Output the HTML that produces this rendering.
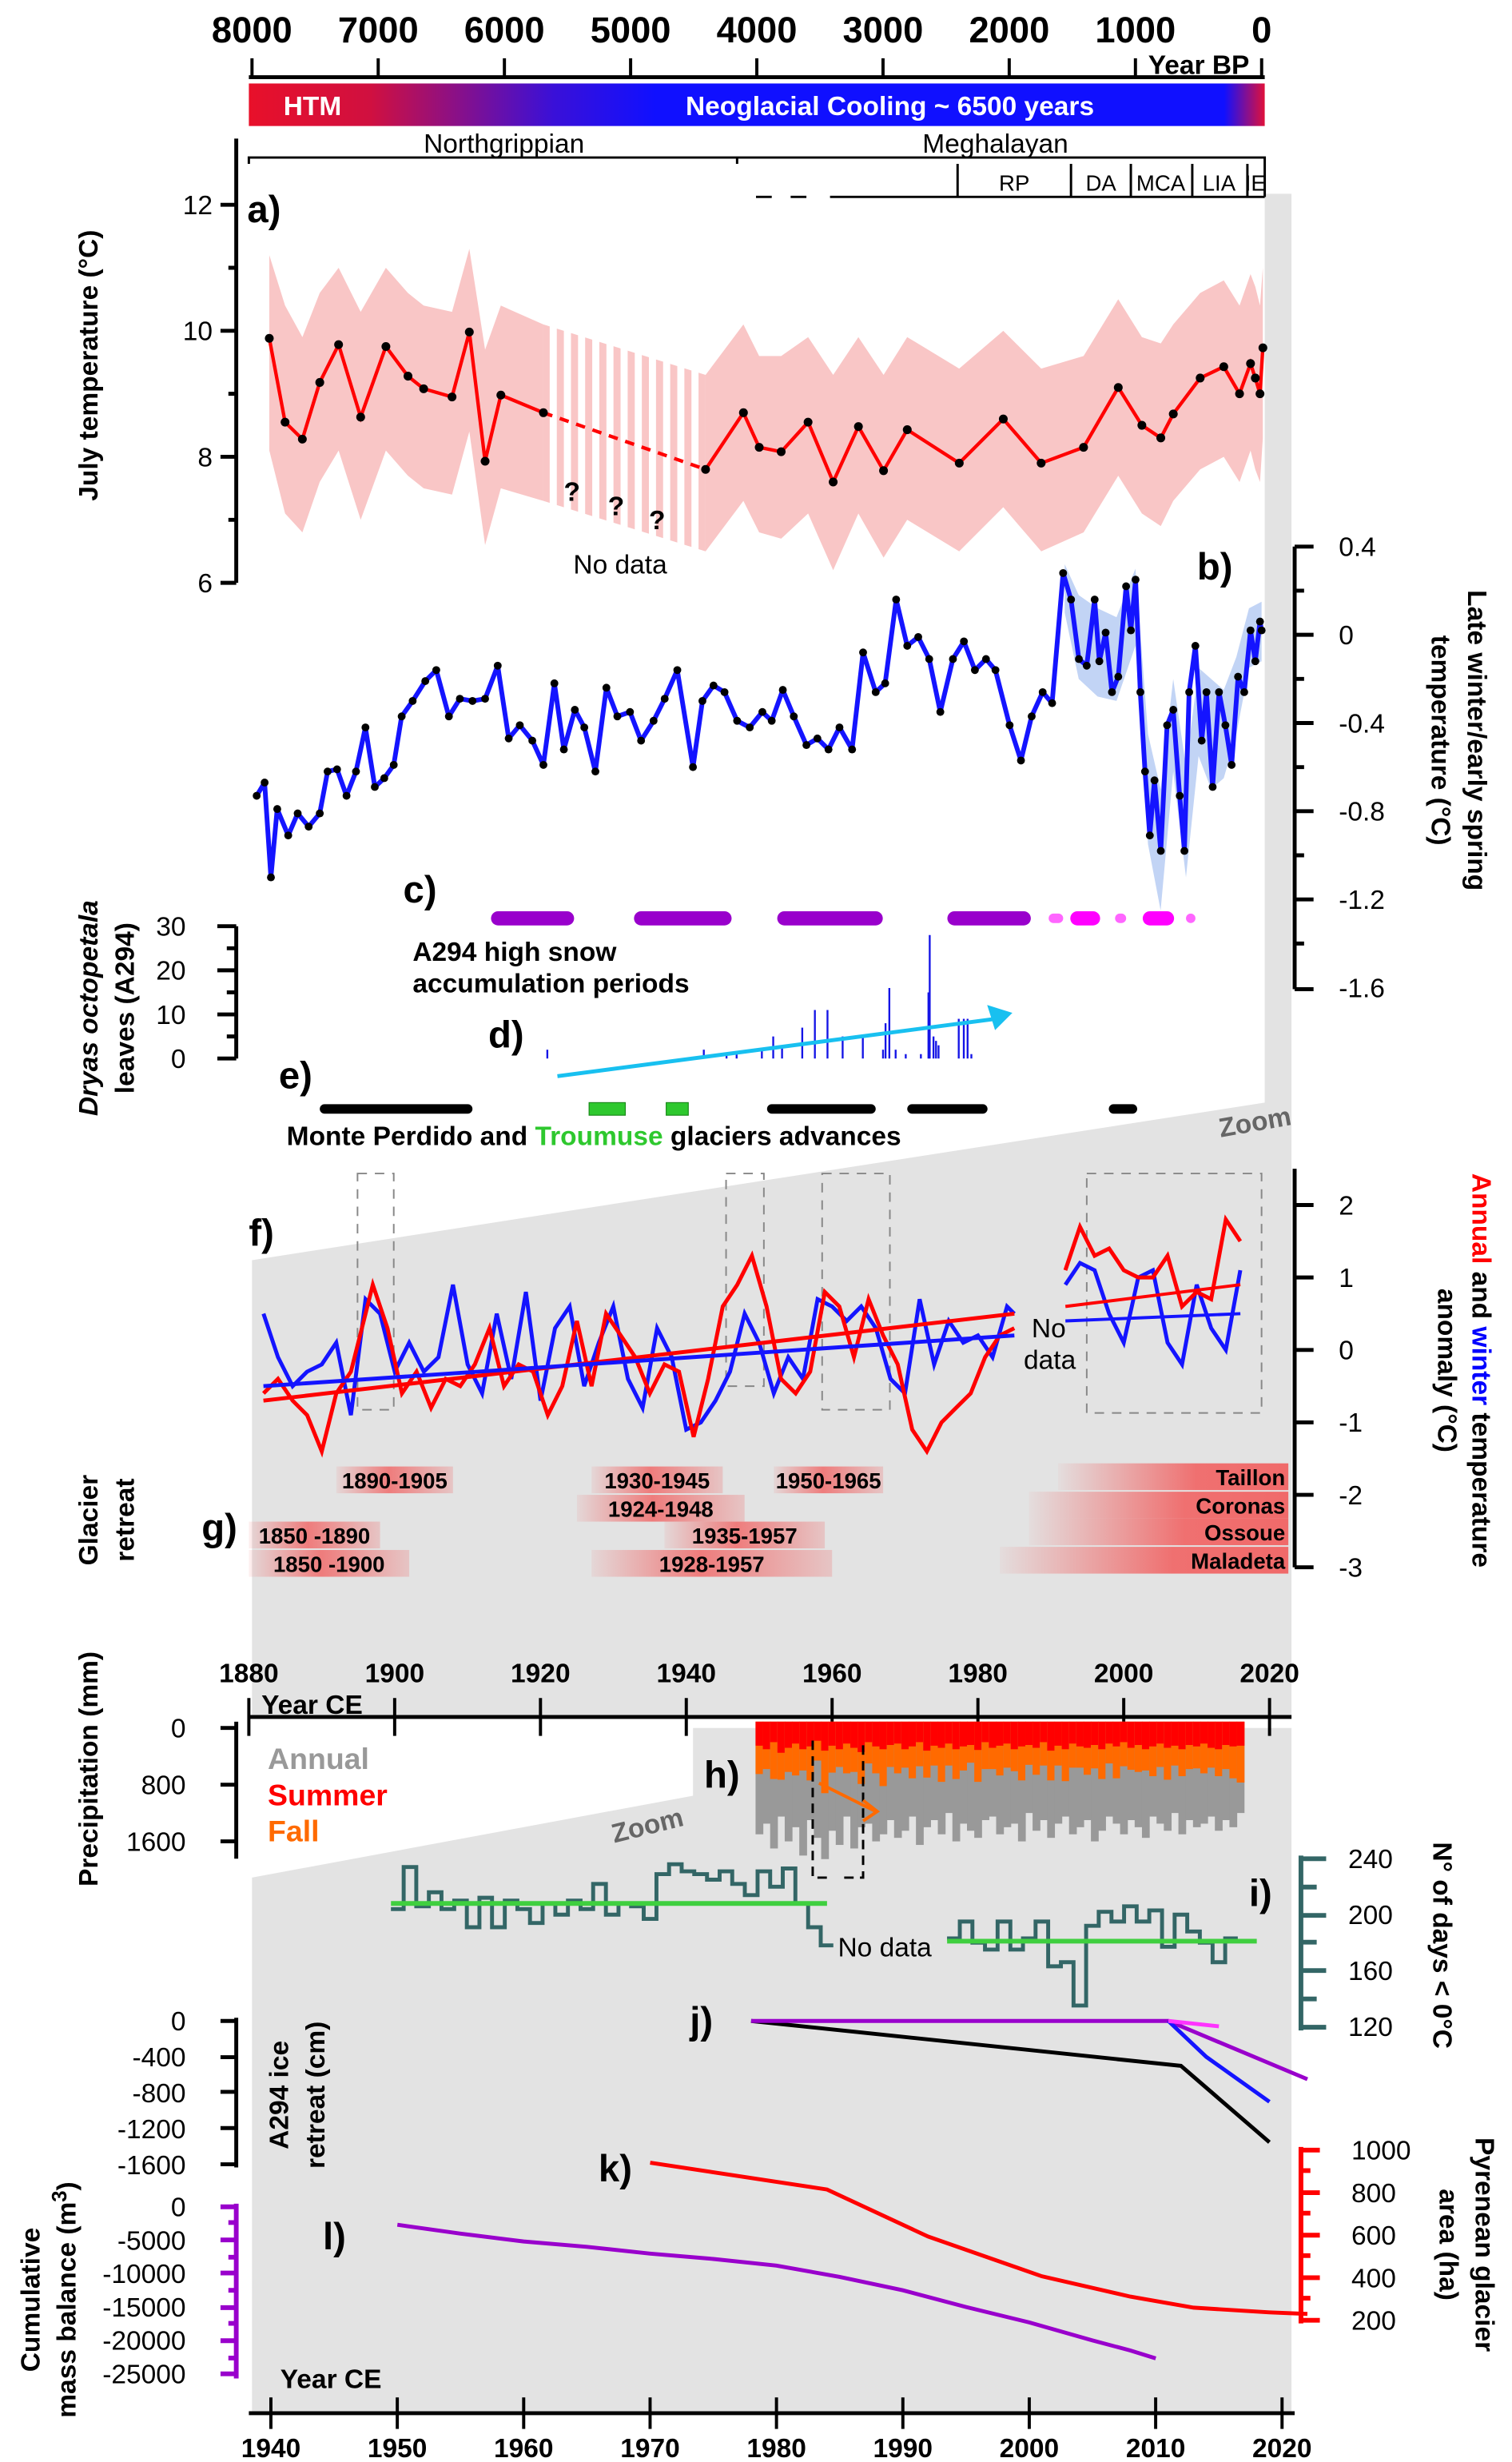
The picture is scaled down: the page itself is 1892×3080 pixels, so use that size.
<!DOCTYPE html>
<html><head><meta charset="utf-8"><title>Pyrenees climate and glacier composite figure</title>
<style>
html,body{margin:0;padding:0;background:#fff;}
svg{display:block;font-family:"Liberation Sans Narrow","Liberation Sans",Arial,sans-serif;}
.t{font-size:17px;fill:#000}
.b{font-weight:bold}
.lab{font-size:24px;font-weight:bold}
</style></head>
<body>
<svg id="fig" width="1892" height="3080" viewBox="0 0 960 1563" preserveAspectRatio="none" xmlns="http://www.w3.org/2000/svg">
<defs>
<linearGradient id="htm" x1="0" x2="1" y1="0" y2="0">
<stop offset="0" stop-color="#e8102a"/><stop offset="0.12" stop-color="#d01040"/><stop offset="0.3" stop-color="#3a10d8"/><stop offset="0.4" stop-color="#1010ff"/><stop offset="0.96" stop-color="#1010ff"/><stop offset="1" stop-color="#e0103a"/>
</linearGradient>
<linearGradient id="gr" x1="0" x2="1" y1="0" y2="0">
<stop offset="0" stop-color="#f06a6a" stop-opacity="0.1"/><stop offset="0.45" stop-color="#f06a6a" stop-opacity="0.85"/><stop offset="1" stop-color="#f06a6a" stop-opacity="0.25"/>
</linearGradient>
<linearGradient id="gr2" x1="0" x2="1" y1="0" y2="0">
<stop offset="0" stop-color="#f06a6a" stop-opacity="0.05"/><stop offset="0.6" stop-color="#f06a6a" stop-opacity="0.95"/><stop offset="1" stop-color="#f06a6a" stop-opacity="1"/>
</linearGradient>
</defs>

<polygon points="160,800 803,700 803,123 820,123 820,1090 160,1090" fill="#e3e3e3"/>
<polygon points="160,1192 440,1140 440,1097 820,1097 820,1532 160,1532" fill="#e3e3e3"/>
<text x="775" y="722" transform="rotate(-10 775 722)" font-size="17" fill="#666" font-weight="bold">Zoom</text>
<text x="390" y="1170" transform="rotate(-14 390 1170)" font-size="17" fill="#666" font-weight="bold">Zoom</text>

<g id="topaxis"></g>
<text x="729" y="47" class="t b" font-size="17">Year BP</text>
<rect x="158" y="53" width="645" height="27" fill="url(#htm)"/>
<text x="180" y="73" fill="#fff" font-size="17" font-weight="bold">HTM</text>
<text x="565" y="73" fill="#fff" font-size="17" font-weight="bold" text-anchor="middle">Neoglacial Cooling  ~ 6500 years</text>
<g stroke="#000" stroke-width="1.5" fill="none">
<path d="M158,104 V100 H803 V104 M468,100 V104"/>
<path d="M480,125 H490 M502,125 H512 M527,125 H803 M608,104 V125 M680,104 V125 M718,104 V125 M757,104 V125 M792,104 V125 M803,104 V125"/>
</g>
<text x="320" y="97" class="t" text-anchor="middle">Northgrippian</text>
<text x="632" y="97" class="t" text-anchor="middle">Meghalayan</text>
<text x="644" y="121" font-size="14" text-anchor="middle">RP</text>
<text x="699" y="121" font-size="14" text-anchor="middle">DA</text>
<text x="737" y="121" font-size="14" text-anchor="middle">MCA</text>
<text x="774" y="121" font-size="14" text-anchor="middle">LIA</text>
<text x="797" y="121" font-size="14" text-anchor="middle">IE</text>

<g id="pa"></g>
<text transform="translate(62,232) rotate(-90)" class="t b" font-size="19" text-anchor="middle">July temperature (°C)</text>
<text x="364" y="364" class="t">No data</text>
<text x="358" y="318" class="t b">?</text>
<text x="386" y="327" class="t b">?</text>
<text x="412" y="336" class="t b">?</text>

<g id="pb"></g>
<text transform="translate(932,470) rotate(90)" class="t b" font-size="19" text-anchor="middle">Late winter/early spring</text>
<text transform="translate(909,470) rotate(90)" class="t b" font-size="19" text-anchor="middle">temperature (°C)</text>

<g id="pc"></g>
<text x="262" y="610" class="t b">A294 high snow</text>
<text x="262" y="630" class="t b">accumulation periods</text>

<g id="pd"></g>
<text transform="translate(62,640) rotate(-90)" class="t b" font-size="19" text-anchor="middle"><tspan font-style="italic">Dryas octopetala</tspan></text>
<text transform="translate(85,640) rotate(-90)" class="t b" font-size="19" text-anchor="middle">leaves (A294)</text>

<g id="pe"></g>
<text x="182" y="727" class="t b">Monte Perdido and <tspan fill="#2ec82e">Troumuse</tspan> glaciers advances</text>

<g id="pf"></g>
<text x="655" y="849" class="t">No</text>
<text x="650" y="869" class="t">data</text>
<text transform="translate(935,870) rotate(90)" class="t b" font-size="19" text-anchor="middle"><tspan fill="#f00">Annual</tspan> and <tspan fill="#00f">winter</tspan> temperature</text>
<text transform="translate(913,870) rotate(90)" class="t b" font-size="19" text-anchor="middle">anomaly (°C)</text>

<g id="pg"></g>
<text transform="translate(62,965) rotate(-90)" class="t b" font-size="19" text-anchor="middle">Glacier</text>
<text transform="translate(85,965) rotate(-90)" class="t b" font-size="19" text-anchor="middle">retreat</text>

<g id="midaxis"></g>
<text x="166" y="1088" class="t b">Year CE</text>

<g id="ph"></g>
<text transform="translate(62,1123) rotate(-90)" class="t b" font-size="19" text-anchor="middle">Precipitation (mm)</text>
<text x="170" y="1123" font-size="19" font-weight="bold" fill="#999">Annual</text>
<text x="170" y="1146" font-size="19" font-weight="bold" fill="#f00">Summer</text>
<text x="170" y="1169" font-size="19" font-weight="bold" fill="#ff6a00">Fall</text>

<g id="pi"></g>
<text x="532" y="1242" class="t">No data</text>
<text transform="translate(910,1235) rotate(90)" class="t b" font-size="19" text-anchor="middle">N° of days &lt; 0°C</text>

<g id="pj"></g>
<text transform="translate(183,1330) rotate(-90)" class="t b" font-size="19" text-anchor="middle">A294 ice</text>
<text transform="translate(206,1330) rotate(-90)" class="t b" font-size="19" text-anchor="middle">retreat (cm)</text>

<g id="pk"></g>
<text transform="translate(937,1425) rotate(90)" class="t b" font-size="19" text-anchor="middle">Pyrenean glacier</text>
<text transform="translate(914,1425) rotate(90)" class="t b" font-size="19" text-anchor="middle">area (ha)</text>

<g id="pl"></g>
<text transform="translate(25,1460) rotate(-90)" class="t b" font-size="19" text-anchor="middle">Cumulative</text>
<text transform="translate(48,1460) rotate(-90)" class="t b" font-size="19" text-anchor="middle">mass balance (m<tspan dy="-6" font-size="13">3</tspan><tspan dy="6">)</tspan></text>

<g id="botaxis"></g>
<text x="178" y="1516" class="t b">Year CE</text>

<text x="157" y="141" class="lab">a)</text>
<text x="760" y="368" class="lab">b)</text>
<text x="256" y="573" class="lab">c)</text>
<text x="310" y="665" class="lab">d)</text>
<text x="177" y="691" class="lab">e)</text>
<text x="158" y="791" class="lab">f)</text>
<text x="128" y="978" class="lab">g)</text>
<text x="447" y="1135" class="lab">h)</text>
<text x="793" y="1210" class="lab">i)</text>
<text x="438" y="1291" class="lab">j)</text>
<text x="380" y="1385" class="lab">k)</text>
<text x="205" y="1428" class="lab">l)</text>
</svg>

<script>
// ---------- DATA ----------
const bpTicks = [8000,7000,6000,5000,4000,3000,2000,1000,0];
const aYearsBP = [7863,7738,7601,7463,7314,7139,6939,6764,6640,6415,6278,6153,6028,5691,4406,4106,3981,3807,3594,3395,3195,2996,2808,2396,2047,1747,1411,1136,949,799,700,487,300,175,88,50,13,-10];
const aTemp = [9.88,8.55,8.28,9.18,9.78,8.63,9.75,9.28,9.08,8.95,9.98,7.93,8.98,8.7,7.8,8.7,8.15,8.08,8.55,7.6,8.48,7.78,8.43,7.9,8.6,7.9,8.15,9.1,8.5,8.3,8.68,9.25,9.43,9.0,9.48,9.25,9.0,9.73];
const aUpper = [11.2,10.4,9.9,10.6,11.0,10.3,11.0,10.6,10.4,10.3,11.3,9.7,10.4,10.1,9.3,10.1,9.6,9.6,9.9,9.3,9.9,9.3,9.9,9.4,10.0,9.4,9.6,10.5,9.9,9.8,10.1,10.6,10.8,10.4,10.9,10.7,10.4,11.0];
const aLower = [8.1,7.1,6.8,7.6,8.1,7.0,8.1,7.7,7.5,7.4,8.4,6.6,7.5,7.3,6.5,7.3,6.8,6.7,7.1,6.2,7.1,6.4,7.0,6.5,7.2,6.5,6.8,7.7,7.1,6.9,7.3,7.8,8.0,7.6,8.1,7.8,7.6,8.3];
const aTicks = [12,10,8,6];
const bYearsBP = [7963,7900,7850,7800,7713,7638,7551,7463,7401,7326,7251,7176,7101,7027,6952,6877,6814,6727,6627,6540,6440,6353,6253,6153,6053,5966,5878,5779,5691,5604,5529,5442,5367,5279,5192,5105,5005,4917,4818,4730,4630,4506,4431,4343,4256,4156,4056,3956,3882,3794,3707,3607,3520,3432,3345,3245,3158,3058,2983,2896,2808,2721,2634,2546,2446,2359,2272,2184,2109,1997,1907,1822,1735,1660,1573,1510,1448,1386,1323,1286,1236,1186,1136,1074,1036,999,961,924,886,849,799,749,700,649,612,574,525,475,437,388,338,287,238,187,138,88,50,13,0];
const bTemp = [-0.73,-0.67,-1.10,-0.79,-0.91,-0.81,-0.87,-0.81,-0.62,-0.61,-0.73,-0.62,-0.42,-0.69,-0.65,-0.59,-0.37,-0.30,-0.21,-0.16,-0.37,-0.29,-0.30,-0.29,-0.14,-0.47,-0.41,-0.48,-0.59,-0.22,-0.52,-0.34,-0.42,-0.62,-0.24,-0.37,-0.35,-0.48,-0.39,-0.29,-0.16,-0.60,-0.30,-0.23,-0.26,-0.39,-0.42,-0.35,-0.39,-0.25,-0.37,-0.50,-0.47,-0.52,-0.42,-0.52,-0.08,-0.26,-0.22,0.16,-0.05,-0.01,-0.11,-0.35,-0.11,-0.03,-0.16,-0.11,-0.16,-0.41,-0.57,-0.37,-0.26,-0.31,0.28,0.16,-0.11,-0.14,0.16,-0.12,0.01,-0.26,-0.19,0.22,0.02,0.25,-0.26,-0.62,-0.91,-0.66,-0.98,-0.41,-0.34,-0.73,-0.98,-0.26,-0.05,-0.48,-0.26,-0.69,-0.26,-0.41,-0.59,-0.19,-0.26,0.02,-0.12,0.06,0.02];
const bBandBP = [1560,1450,1300,1150,1000,900,800,700,600,500,400,300,200,100,0];
const bBandHi = [0.32,0.18,0.12,0.08,0.30,-0.45,-0.70,-0.20,-0.60,-0.15,-0.20,-0.25,-0.10,0.12,0.15];
const bBandLo = [0.10,-0.20,-0.28,-0.30,-0.05,-0.95,-1.25,-0.62,-1.10,-0.55,-0.70,-0.65,-0.45,-0.15,-0.12];
const bTicks = [0.4,0,-0.4,-0.8,-1.2,-1.6];
const cStart = [6100,4967,3832,2484,1700,1510,1174,936,612];
const cEnd = [5454,4206,3008,1835,1560,1286,1061,700,512];
const cType = [0,0,0,0,2,1,2,1,2];
const dYearsBP = [5660,4420,4240,4160,3960,3870,3800,3640,3540,3440,3320,3160,3000,2980,2950,2900,2820,2700,2640,2630,2600,2580,2560,2400,2360,2330,2300];
const dCount = [2,2,1,1,2,5,3,7,11,11,5,5,2,8,16,2,1,1,15,28,5,4,3,9,9,9,1];
const dTicks = [30,20,10,0];
const dTrendBP = [5580,2000];
const dTrendVal = [-4,10];
const eStart = [7463,3919,2808,1211];
const eEnd = [6253,3058,2172,986];
const eGreenStart = [5329,4718];
const eGreenEnd = [5042,4543];
const fRedYears = [1882,1884,1886,1888,1890,1892,1894,1896,1897,1899,1901,1903,1905,1907,1909,1911,1913,1915,1917,1919,1921,1923,1925,1927,1929,1931,1933,1935,1937,1939,1941,1943,1945,1947,1949,1951,1953,1955,1957,1959,1961,1963,1965,1967,1969,1971,1973,1975,1977,1979,1981,1983,1985];
const fRedVals = [-0.6,-0.4,-0.7,-0.9,-1.4,-0.6,-0.3,0.5,0.9,0.3,-0.6,-0.3,-0.8,-0.4,-0.5,-0.2,0.3,-0.5,-0.2,-0.3,-0.9,-0.5,0.4,-0.5,0.5,0.2,-0.1,-0.6,-0.2,-0.3,-1.2,-0.4,0.6,0.9,1.3,0.6,-0.4,-0.6,-0.3,0.8,0.6,-0.1,0.7,0.2,-0.2,-1.1,-1.4,-1.0,-0.8,-0.6,-0.1,0.2,0.3];
const fBlueYears = [1882,1884,1886,1888,1890,1892,1894,1896,1898,1900,1902,1904,1906,1908,1910,1912,1914,1916,1918,1920,1922,1924,1926,1928,1930,1932,1934,1936,1938,1940,1942,1944,1946,1948,1950,1952,1954,1956,1958,1960,1962,1964,1966,1968,1970,1972,1974,1976,1978,1980,1982,1984,1985];
const fBlueVals = [0.5,-0.1,-0.5,-0.3,-0.2,0.1,-0.9,0.7,0.5,-0.3,0.1,-0.3,-0.1,0.9,-0.2,-0.6,0.5,-0.4,0.8,-0.7,0.3,0.6,-0.5,0.1,0.6,-0.4,-0.8,0.3,-0.1,-1.1,-1.0,-0.7,-0.3,0.5,0.1,-0.6,-0.1,-0.4,0.7,0.6,0.4,0.6,0.3,-0.4,-0.6,0.7,-0.2,0.4,0.1,0.2,-0.1,0.6,0.5];
const fRed2Years = [1992,1994,1996,1998,2000,2002,2004,2006,2008,2010,2012,2014,2016];
const fRed2Vals = [1.1,1.7,1.3,1.4,1.1,1.0,1.0,1.3,0.6,0.8,0.7,1.8,1.5];
const fBlue2Vals = [0.9,1.2,1.1,0.5,0.1,1.0,1.1,0.1,-0.2,0.9,0.3,0.0,1.1];
const fTrendRed = [-0.7,0.5,0.6,0.9];
const fTrendBlue = [-0.5,0.2,0.4,0.5];
const fTicks = [2,1,0,-1,-2,-3];
const midTicks = [1880,1900,1920,1940,1960,1980,2000,2020];
const gLabels = ["1890-1905","1930-1945","1924-1948","1950-1965","1935-1957","1928-1957","1850 -1890","1850 -1900"];
const gStart = [1892,1927,1925,1952,1937,1927,1880,1880];
const gEnd = [1908,1945,1948,1967,1959,1960,1898,1902];
const gRow = [0,0,1,0,2,3,2,3];
const gNames = ["Taillon","Coronas","Ossoue","Maladeta"];
const gNameStart = [1991,1987,1987,1983];
const hAnnual = [1500,1350,1700,1250,1600,1400,1800,1300,1550,1850,1450,1650,1250,1700,1400,1350,1600,1500,1300,1550,1450,1250,1650,1400,1300,1500,1200,1600,1350,1450,1550,1300,1250,1500,1400,1350,1600,1200,1450,1300,1550,1350,1250,1500,1400,1300,1600,1450,1250,1350,1500,1300,1400,1550,1250,1350,1450,1200,1500,1300,1400,1350,1250,1450,1300,1400,1200];
const hFall = [400,280,520,380,340,450,300,480,280,600,380,250,420,340,450,300,380,520,310,420,260,450,340,380,280,480,310,420,340,250,450,380,300,420,340,310,480,280,380,330,420,280,450,340,300,380,330,420,280,450,340,310,380,300,420,330,450,280,380,340,310,420,280,380,340,450,520];
const hSummer = [250,300,200,350,280,220,300,260,180,320,250,300,220,280,340,200,260,300,240,220,300,260,200,320,250,280,220,300,260,240,310,200,280,250,220,300,260,240,280,200,320,250,300,220,260,280,240,300,220,260,200,280,240,300,260,220,280,250,300,240,260,220,280,300,240,260,250];
const hTicks = [0,800,1600];
const iYears1 = [1950,1951,1952,1953,1954,1955,1956,1957,1958,1959,1960,1961,1962,1963,1964,1965,1966,1967,1968,1969,1970,1971,1972,1973,1974,1975,1976,1977,1978,1979,1980,1981,1982,1983,1984];
const iDays1 = [204,234,206,216,204,210,191,212,191,210,204,194,208,200,210,204,222,200,208,206,197,229,236,231,229,225,231,222,214,231,220,233,208,191,178];
const iYears2 = [1994,1995,1996,1997,1998,1999,2000,2001,2002,2003,2004,2005,2006,2007,2008,2009,2010,2011,2012,2013,2014,2015,2016];
const iDays2 = [183,195,180,175,195,175,183,195,163,166,135,192,202,195,206,195,203,177,200,188,180,166,183];
const iMean = [208,181];
const iTicks = [240,200,160,120];
const jBlackYears = [1978,2012,2019];
const jBlackVals = [0,-500,-1350];
const jPurpleYears = [1978,2011,2022];
const jPurpleVals = [0,0,-650];
const jBlueYears = [2011,2014,2019];
const jBlueVals = [0,-400,-900];
const jPinkYears = [2011,2015];
const jPinkVals = [0,-60];
const jTicks = [0,-400,-800,-1200,-1600];
const kYears = [1970,1984,1992,2001,2008,2013,2019,2022];
const kArea = [941,815,593,407,311,259,237,230];
const kTicks = [1000,800,600,400,200];
const lYears = [1950,1955,1960,1965,1970,1975,1980,1985,1990,1995,2000,2005,2008,2010];
const lVals = [-2700,-4000,-5200,-6000,-7000,-7800,-8800,-10500,-12500,-15000,-17300,-20000,-21500,-22700];
const lTicks = [0,-5000,-10000,-15000,-20000,-25000];
const botTicks = [1940,1950,1960,1970,1980,1990,2000,2010,2020];

// ---------- SCALES ----------
const NS="http://www.w3.org/2000/svg";
function mk(tag, attrs, parent){const e=document.createElementNS(NS,tag);for(const k in attrs)e.setAttribute(k,attrs[k]);parent.appendChild(e);return e;}
const xBP = bp => 160 + (8000-bp)*0.08013;
const yA = t => 130 + (12-t)*40;
const yB = t => 403 - t*140;
const yD = c => 672 - c*2.8;
const xCE1 = y => 158 + (y-1880)*4.629;
const yF = v => 857 - v*46;
const yH = p => 1097 + p*0.045;
const xCE2 = y => 172 + (y-1940)*8.025;
const yI = d => 1180 + (240-d)*0.8875;
const yJ = v => 1283 - v*0.057;
const yK = a => 1365 + (1000-a)*0.135;
const yL = v => 1401 - v*0.00424;
const pts = (xs,ys,fx,fy)=>xs.map((x,i)=>fx(x).toFixed(1)+','+fy(ys[i]).toFixed(1)).join(' ');

// ---------- TOP AXIS ----------
const ta=document.getElementById('topaxis');
const taLine=mk('line',{x1:158,y1:49,x2:803,y2:49,stroke:'#000','stroke-width':2.5},ta);


bpTicks.forEach(v=>{
  const x=xBP(v);
  const tk=mk('line',{x1:x,y1:37,x2:x,y2:49,stroke:'#000','stroke-width':2},ta);
  
  
  const tl=mk('text',{x:x,y:27,'text-anchor':'middle','font-size':23,'font-weight':'bold'},ta);
  tl.textContent=v;
  
  
});

// ---------- PANEL A ----------
const pa=document.getElementById('pa');
const gapIdx=13;
const bandPolyA=(s,e)=>{let u=[],l=[];for(let i=s;i<=e;i++){u.push(xBP(aYearsBP[i]).toFixed(1)+','+yA(aUpper[i]).toFixed(1));l.unshift(xBP(aYearsBP[i]).toFixed(1)+','+yA(aLower[i]).toFixed(1));}return u.concat(l).join(' ');};
const bandA1=mk('polygon',{points:bandPolyA(0,gapIdx),fill:'#f9c6c6'},pa);


const bandA2=mk('polygon',{points:bandPolyA(gapIdx+1,aYearsBP.length-1),fill:'#f9c6c6'},pa);


const bandGap=mk('polygon',{points:bandPolyA(gapIdx,gapIdx+1),fill:'#f9c6c6'},pa);


for(let k=0;k<11;k++){
  const sx=xBP(aYearsBP[gapIdx])+4+k*9;
  const st=mk('rect',{x:sx,y:180,width:4.5,height:180,fill:'#fff'},pa);
  
  
}
const axA=mk('path',{d:'M150,88 V370 M150,130 H140 M150,210 H140 M150,290 H140 M150,370 H140 M150,170 H145 M150,250 H145 M150,330 H145',stroke:'#000','stroke-width':2.5,fill:'none'},pa);


aTicks.forEach(v=>{
  const t=mk('text',{x:135,y:yA(v)+6,'text-anchor':'end','font-size':17},pa);
  t.textContent=v;
  
  
});
const la1=mk('polyline',{points:pts(aYearsBP.slice(0,gapIdx+1),aTemp.slice(0,gapIdx+1),xBP,yA),fill:'none',stroke:'#f00','stroke-width':2.2},pa);


const la2=mk('polyline',{points:pts(aYearsBP.slice(gapIdx,gapIdx+2),aTemp.slice(gapIdx,gapIdx+2),xBP,yA),fill:'none',stroke:'#f00','stroke-width':2.2,'stroke-dasharray':'6,5'},pa);


const la3=mk('polyline',{points:pts(aYearsBP.slice(gapIdx+1),aTemp.slice(gapIdx+1),xBP,yA),fill:'none',stroke:'#f00','stroke-width':2.2},pa);


aYearsBP.forEach((y,i)=>{
  const c=mk('circle',{cx:xBP(y),cy:yA(aTemp[i]),r:2.8,fill:'#000'},pa);
  
  
});

// ---------- PANEL B ----------
const pb=document.getElementById('pb');
const bandB=mk('polygon',{points:bBandBP.map((y,i)=>xBP(y).toFixed(1)+','+yB(bBandHi[i]).toFixed(1)).concat(bBandBP.map((y,i)=>xBP(y).toFixed(1)+','+yB(bBandLo[i]).toFixed(1)).reverse()).join(' '),fill:'#c2d4f5'},pb);


const axB=mk('path',{d:'M822,347 V628 M822,347 H834 M822,403 H834 M822,459 H834 M822,515 H834 M822,571 H834 M822,628 H834 M822,375 H828 M822,431 H828 M822,487 H828 M822,543 H828 M822,599 H828',stroke:'#000','stroke-width':2.5,fill:'none'},pb);


bTicks.forEach(v=>{
  const t=mk('text',{x:850,y:yB(v)+6,'font-size':17},pb);
  t.textContent=v;
  
  
});
const lb=mk('polyline',{points:pts(bYearsBP,bTemp,xBP,yB),fill:'none',stroke:'#1414ff','stroke-width':3,'stroke-linejoin':'round'},pb);


bYearsBP.forEach((y,i)=>{
  const c=mk('circle',{cx:xBP(y),cy:yB(bTemp[i]),r:2.5,fill:'#000'},pb);
  
  
});

// ---------- PANEL C ----------
const pc=document.getElementById('pc');
const cColors=['#9900cc','#ff00ff','#ff66ff'];
const cWidth=[9,9,6];
cStart.forEach((s,i)=>{
  const l=mk('line',{x1:xBP(s)+4,y1:583,x2:xBP(cEnd[i])-4,y2:583,stroke:cColors[cType[i]],'stroke-width':cWidth[cType[i]],'stroke-linecap':'round'},pc);
  
  
});

// ---------- PANEL D ----------
const pd=document.getElementById('pd');
const axD=mk('path',{d:'M150,588 V672 M150,588 H138 M150,616 H138 M150,644 H138 M150,672 H138 M150,602 H144 M150,630 H144 M150,658 H144',stroke:'#000','stroke-width':2.5,fill:'none'},pd);


dTicks.forEach(v=>{
  const t=mk('text',{x:118,y:yD(v)+6,'text-anchor':'end','font-size':17},pd);
  t.textContent=v;
  
  
});
dYearsBP.forEach((y,i)=>{
  const b=mk('line',{x1:xBP(y),y1:yD(0),x2:xBP(y),y2:yD(dCount[i]),stroke:'#1414e6','stroke-width':1.2},pd);
  
  
});
const ar=mk('line',{x1:xBP(dTrendBP[0]),y1:yD(dTrendVal[0]),x2:xBP(dTrendBP[1])-10,y2:yD(dTrendVal[1])+3,stroke:'#18c0f0','stroke-width':2.5},pd);


const ah=mk('polygon',{points:(xBP(dTrendBP[1])+2)+','+(yD(dTrendVal[1])-1)+' '+(xBP(dTrendBP[1])-14)+','+(yD(dTrendVal[1])-6)+' '+(xBP(dTrendBP[1])-9)+','+(yD(dTrendVal[1])+10),fill:'#18c0f0'},pd);



// ---------- PANEL E ----------
const pe=document.getElementById('pe');
eStart.forEach((s,i)=>{
  const l=mk('line',{x1:xBP(s)+3,y1:704,x2:xBP(eEnd[i])-3,y2:704,stroke:'#000','stroke-width':6,'stroke-linecap':'round'},pe);
  
  
});
eGreenStart.forEach((s,i)=>{
  const r=mk('rect',{x:xBP(s),y:700,width:xBP(eGreenEnd[i])-xBP(s),height:8,fill:'#2ec82e',stroke:'#1a8a1a','stroke-width':0.6},pe);
  
  
});

// ---------- PANEL F ----------
const pf=document.getElementById('pf');
const boxes=[[227,745,23,150],[461,745,24,135],[522,745,43,150],[690,745,111,152]];
boxes.forEach(b=>{
  const r=mk('rect',{x:b[0],y:b[1],width:b[2],height:b[3],fill:'none',stroke:'#888','stroke-width':1,'stroke-dasharray':'6,5'},pf);
  
  
});
const axF=mk('path',{d:'M822,742 V995 M822,765 H834 M822,811 H834 M822,857 H834 M822,903 H834 M822,949 H834 M822,995 H834',stroke:'#000','stroke-width':2.5,fill:'none'},pf);


fTicks.forEach(v=>{
  const t=mk('text',{x:850,y:yF(v)+6,'font-size':17},pf);
  t.textContent=v;
  
  
});
const fb=mk('polyline',{points:pts(fBlueYears,fBlueVals,xCE1,yF),fill:'none',stroke:'#1414ff','stroke-width':2.5},pf);


const fr=mk('polyline',{points:pts(fRedYears,fRedVals,xCE1,yF),fill:'none',stroke:'#f00','stroke-width':2.5},pf);


const fb2=mk('polyline',{points:pts(fRed2Years,fBlue2Vals,xCE1,yF),fill:'none',stroke:'#1414ff','stroke-width':2.5},pf);


const fr2=mk('polyline',{points:pts(fRed2Years,fRed2Vals,xCE1,yF),fill:'none',stroke:'#f00','stroke-width':2.5},pf);


const tr1=mk('line',{x1:xCE1(1882),y1:yF(fTrendRed[0]),x2:xCE1(1985),y2:yF(fTrendRed[1]),stroke:'#f00','stroke-width':2.5},pf);


const tb1=mk('line',{x1:xCE1(1882),y1:yF(fTrendBlue[0]),x2:xCE1(1985),y2:yF(fTrendBlue[1]),stroke:'#1414ff','stroke-width':2.5},pf);


const tr2=mk('line',{x1:xCE1(1992),y1:yF(fTrendRed[2]),x2:xCE1(2016),y2:yF(fTrendRed[3]),stroke:'#f00','stroke-width':2},pf);


const tb2=mk('line',{x1:xCE1(1992),y1:yF(fTrendBlue[2]),x2:xCE1(2016),y2:yF(fTrendBlue[3]),stroke:'#1414ff','stroke-width':2},pf);



// ---------- PANEL G ----------
const pg=document.getElementById('pg');
const gRowY=[931,949,966,984];
gLabels.forEach((lab,i)=>{
  const x1=xCE1(gStart[i]),x2=xCE1(gEnd[i]);
  const r=mk('rect',{x:x1,y:gRowY[gRow[i]],width:x2-x1,height:17,fill:'url(#gr)'},pg);
  
  
  const t=mk('text',{x:(x1+x2)/2,y:gRowY[gRow[i]]+14,'text-anchor':'middle','font-size':14,'font-weight':'bold'},pg);
  t.textContent=lab;
  
  
});
gNames.forEach((n,i)=>{
  const x1=xCE1(gNameStart[i]);
  const r=mk('rect',{x:x1,y:gRowY[i]-2,width:818-x1,height:17,fill:'url(#gr2)'},pg);
  
  
  const t=mk('text',{x:816,y:gRowY[i]+12,'text-anchor':'end','font-size':14,'font-weight':'bold'},pg);
  t.textContent=n;
  
  
});

// ---------- MID AXIS ----------
const ma=document.getElementById('midaxis');
const maL=mk('line',{x1:158,y1:1090,x2:820,y2:1090,stroke:'#000','stroke-width':2.5},ma);


midTicks.forEach(v=>{
  const x=xCE1(v);
  const tk=mk('line',{x1:x,y1:1078,x2:x,y2:1102,stroke:'#000','stroke-width':2},ma);
  
  
  const t=mk('text',{x:x,y:1068,'text-anchor':'middle','font-size':17,'font-weight':'bold'},ma);
  t.textContent=v;
  
  
});

// ---------- PANEL H ----------
const ph=document.getElementById('ph');
const axH=mk('path',{d:'M150,1093 V1180 M150,1097 H140 M150,1133 H140 M150,1169 H140',stroke:'#000','stroke-width':2.5,fill:'none'},ph);


hTicks.forEach(v=>{
  const t=mk('text',{x:118,y:yH(v)+6,'text-anchor':'end','font-size':17},ph);
  t.textContent=v;
  
  
});
const bw=4.629;
hAnnual.forEach((v,i)=>{
  const x=xCE1(1950+i)-bw/2;
  const g=mk('rect',{x:x,y:1093,width:bw+0.3,height:yH(v)-1093,fill:'#999'},ph);
  
  
  const o=mk('rect',{x:x,y:1093,width:bw+0.3,height:yH(hFall[i]+hSummer[i])-1093,fill:'#ff6a00'},ph);
  
  
  const r=mk('rect',{x:x,y:1093,width:bw+0.3,height:yH(hSummer[i])-1093,fill:'#f00'},ph);
  
  
});
const hb=mk('path',{d:'M516,1105 V1192 H528 M536,1192 H548 V1105',stroke:'#000','stroke-width':1.5,'stroke-dasharray':'6,4',fill:'none'},ph);


const ha=mk('path',{d:'M520,1132 L556,1150 M548,1143 L557,1150 L548,1156',stroke:'#ff6a00','stroke-width':2,fill:'none'},ph);



// ---------- PANEL I ----------
const pi=document.getElementById('pi');
const axI=mk('path',{d:'M826,1178 V1289 M826,1180 H842 M826,1216 H842 M826,1251 H842 M826,1287 H842 M826,1198 H836 M826,1233 H836 M826,1269 H836',stroke:'#336666','stroke-width':3,fill:'none'},pi);


iTicks.forEach(v=>{
  const t=mk('text',{x:856,y:yI(v)+6,'font-size':17},pi);
  t.textContent=v;
  
  
});
function stepPts(yrs,vals){let p=[];yrs.forEach((y,i)=>{p.push(xCE2(y-0.5).toFixed(1)+','+yI(vals[i]).toFixed(1));p.push(xCE2(y+0.5).toFixed(1)+','+yI(vals[i]).toFixed(1));});return p.join(' ');}
const s1=mk('polyline',{points:stepPts(iYears1,iDays1),fill:'none',stroke:'#336666','stroke-width':2.5},pi);


const s2=mk('polyline',{points:stepPts(iYears2,iDays2),fill:'none',stroke:'#336666','stroke-width':2.5},pi);


const m1=mk('line',{x1:xCE2(1949.5),y1:yI(iMean[0]),x2:xCE2(1984),y2:yI(iMean[0]),stroke:'#3fcf3f','stroke-width':3},pi);


const m2=mk('line',{x1:xCE2(1993.5),y1:yI(iMean[1]),x2:xCE2(2018),y2:yI(iMean[1]),stroke:'#3fcf3f','stroke-width':3},pi);



// ---------- PANEL J ----------
const pj=document.getElementById('pj');
const axJ=mk('path',{d:'M150,1281 V1376 M150,1283 H140 M150,1306 H140 M150,1328 H140 M150,1351 H140 M150,1374 H140',stroke:'#000','stroke-width':2.5,fill:'none'},pj);


jTicks.forEach(v=>{
  const t=mk('text',{x:118,y:yJ(v)+6,'text-anchor':'end','font-size':17},pj);
  t.textContent=v;
  
  
});
const jl1=mk('polyline',{points:pts(jBlackYears,jBlackVals,xCE2,yJ),fill:'none',stroke:'#000','stroke-width':2.5},pj);


const jl2=mk('polyline',{points:pts(jPurpleYears,jPurpleVals,xCE2,yJ),fill:'none',stroke:'#9900cc','stroke-width':2.5},pj);


const jl3=mk('polyline',{points:pts(jBlueYears,jBlueVals,xCE2,yJ),fill:'none',stroke:'#1414ff','stroke-width':2.5},pj);


const jl4=mk('polyline',{points:pts(jPinkYears,jPinkVals,xCE2,yJ),fill:'none',stroke:'#ff33ff','stroke-width':2.5},pj);



// ---------- PANEL K ----------
const pk=document.getElementById('pk');
const axK=mk('path',{d:'M826,1363 V1475 M826,1365 H838 M826,1392 H838 M826,1419 H838 M826,1446 H838 M826,1473 H838 M826,1378 H832 M826,1405 H832 M826,1432 H832 M826,1459 H832',stroke:'#f00','stroke-width':3,fill:'none'},pk);


kTicks.forEach(v=>{
  const t=mk('text',{x:858,y:yK(v)+6,'font-size':17},pk);
  t.textContent=v;
  
  
});
const kl=mk('polyline',{points:pts(kYears,kArea,xCE2,yK),fill:'none',stroke:'#f00','stroke-width':2.5},pk);



// ---------- PANEL L ----------
const pl=document.getElementById('pl');
const axL=mk('path',{d:'M150,1399 V1510 M150,1401 H140 M150,1422 H140 M150,1443 H140 M150,1465 H140 M150,1486 H140 M150,1507 H140 M150,1411 H145 M150,1433 H145 M150,1454 H145 M150,1475 H145 M150,1497 H145',stroke:'#9900cc','stroke-width':3,fill:'none'},pl);


lTicks.forEach(v=>{
  const t=mk('text',{x:118,y:yL(v)+6,'text-anchor':'end','font-size':17},pl);
  t.textContent=v;
  
  
});
const ll=mk('polyline',{points:pts(lYears,lVals,xCE2,yL),fill:'none',stroke:'#9900cc','stroke-width':2.5},pl);



// ---------- BOTTOM AXIS ----------
const ba=document.getElementById('botaxis');
const baL=mk('line',{x1:158,y1:1532,x2:822,y2:1532,stroke:'#000','stroke-width':2.5},ba);


botTicks.forEach(v=>{
  const x=xCE2(v);
  const tk=mk('line',{x1:x,y1:1522,x2:x,y2:1542,stroke:'#000','stroke-width':2},ba);
  
  
  const t=mk('text',{x:x,y:1560,'text-anchor':'middle','font-size':17,'font-weight':'bold'},ba);
  t.textContent=v;
  
  
});
</script>
</body></html>
